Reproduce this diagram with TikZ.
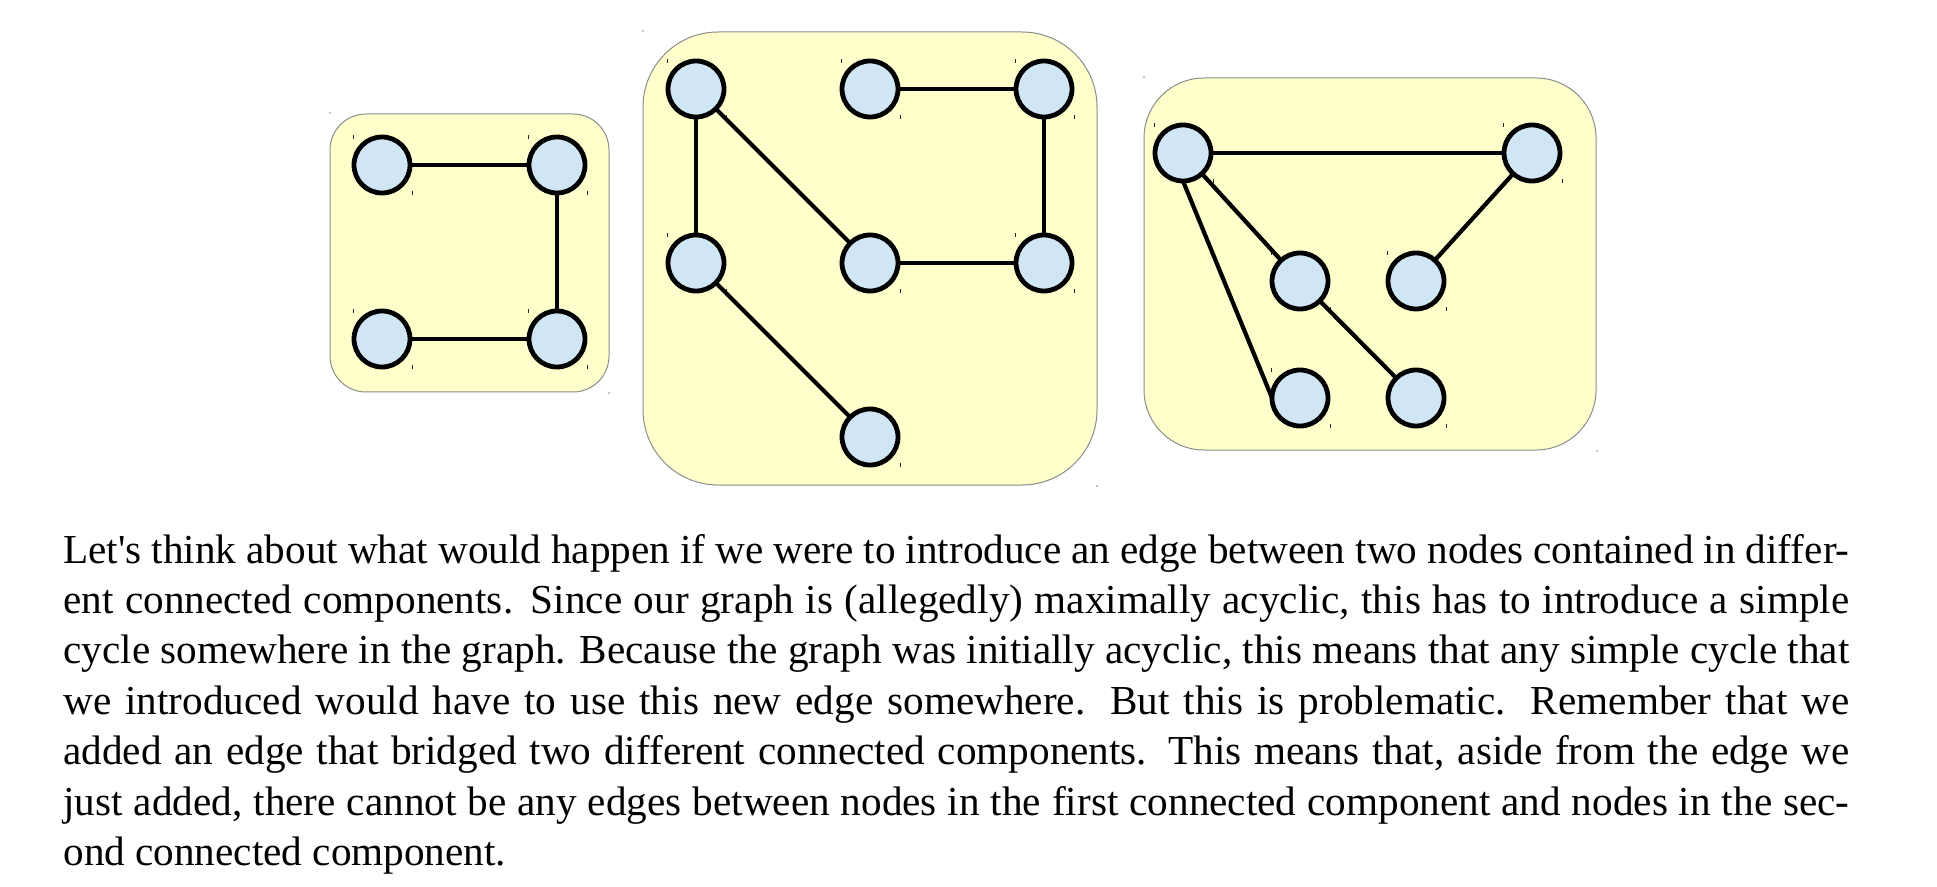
\documentclass[tikz,border=0pt]{standalone}
\usepackage{fontspec}
\newfontfamily\txtfont{Liberation Serif}
\definecolor{nodeblue}{HTML}{D0E6F5}
\definecolor{boxyellow}{HTML}{FFFFCC}
\definecolor{boxline}{HTML}{8C8C8C}
\begin{document}
\begin{tikzpicture}[x=0.5pt,y=-0.5pt,
  gnode/.style={circle, draw=black, line width=2.4pt, fill=nodeblue, minimum size=28pt, inner sep=0pt, outer sep=0pt},
  gedge/.style={draw=black, line width=2.1pt},
  compbox/.style={draw=boxline, line width=0.5pt, fill=boxyellow},
  tickmark/.style={draw=black!85, line width=0.5pt},
  cornerdot/.style={fill=black!45}]
\useasboundingbox (0,0) rectangle (1937,887);
% component boxes
\draw[compbox, rounded corners=18pt] (330,114) rectangle (609,392);
\draw[compbox, rounded corners=37.5pt] (643,32) rectangle (1097,485);
\draw[compbox, rounded corners=30pt] (1144,78) rectangle (1596,450);
\foreach \p in {(330,113),(609,393),(643,31),(1097,486),(1144,77),(1597,451)}
  \fill[cornerdot] \p circle (0.4pt);
% component 1
\node[gnode] (a1) at (382,165) {};
\node[gnode] (a2) at (557,165) {};
\node[gnode] (a3) at (382,339) {};
\node[gnode] (a4) at (557,339) {};
% component 2
\node[gnode] (b1) at (696,89) {};
\node[gnode] (b2) at (870,89) {};
\node[gnode] (b3) at (1044,89) {};
\node[gnode] (b4) at (696,263) {};
\node[gnode] (b5) at (870,263) {};
\node[gnode] (b6) at (1044,263) {};
\node[gnode] (b7) at (870,437) {};
% component 3
\node[gnode] (c1) at (1183,153) {};
\node[gnode] (c2) at (1532,153) {};
\node[gnode] (c3) at (1300,281) {};
\node[gnode] (c4) at (1416,281) {};
\node[gnode] (c5) at (1300,398) {};
\node[gnode] (c6) at (1416,398) {};
% small tick marks at node corners
\foreach \n in {a1,a2,a3,a4,b1,b2,b3,b4,b5,b6,b7,c1,c2,c3,c4,c5,c6}{
  \draw[tickmark] ([shift={(-29,-30)}]\n.center) -- ++(0,4);
  \draw[tickmark] ([shift={(30,26)}]\n.center) -- ++(0,4);
}
% edges
\draw[gedge] (a1) -- (a2);
\draw[gedge] (a2) -- (a4);
\draw[gedge] (a3) -- (a4);
\draw[gedge] (b1) -- (b4);
\draw[gedge] (b1) -- (b5);
\draw[gedge] (b2) -- (b3);
\draw[gedge] (b3) -- (b6);
\draw[gedge] (b5) -- (b6);
\draw[gedge] (b4) -- (b7);
\draw[gedge] (c1) -- (c2);
\draw[gedge] (c1) -- (c3);
\draw[gedge] (c1.south) -- (c5.west);
\draw[gedge] (c3) -- (c6);
\draw[gedge] (c4) -- (c2);
% paragraph
\node[anchor=base west, inner sep=0pt] (txt) at (63,563) {\parbox[t]{893pt}{\txtfont\fontsize{20.6pt}{25.2pt}\selectfont
Let's think about what would happen if we were to introduce an edge between two nodes contained in differ-\linebreak
ent connected components.  Since our graph is (allegedly) maximally acyclic, this has to introduce a simple\linebreak
cycle somewhere in the graph.  Because the graph was initially acyclic, this means that any simple cycle that\linebreak
we introduced would have to use this new edge somewhere.  But this is problematic.  Remember that we\linebreak
added an edge that bridged two different connected components.  This means that, aside from the edge we\linebreak
just added, there cannot be any edges between nodes in the first connected component and nodes in the sec-\linebreak
ond connected component.}};
\end{tikzpicture}
\end{document}
